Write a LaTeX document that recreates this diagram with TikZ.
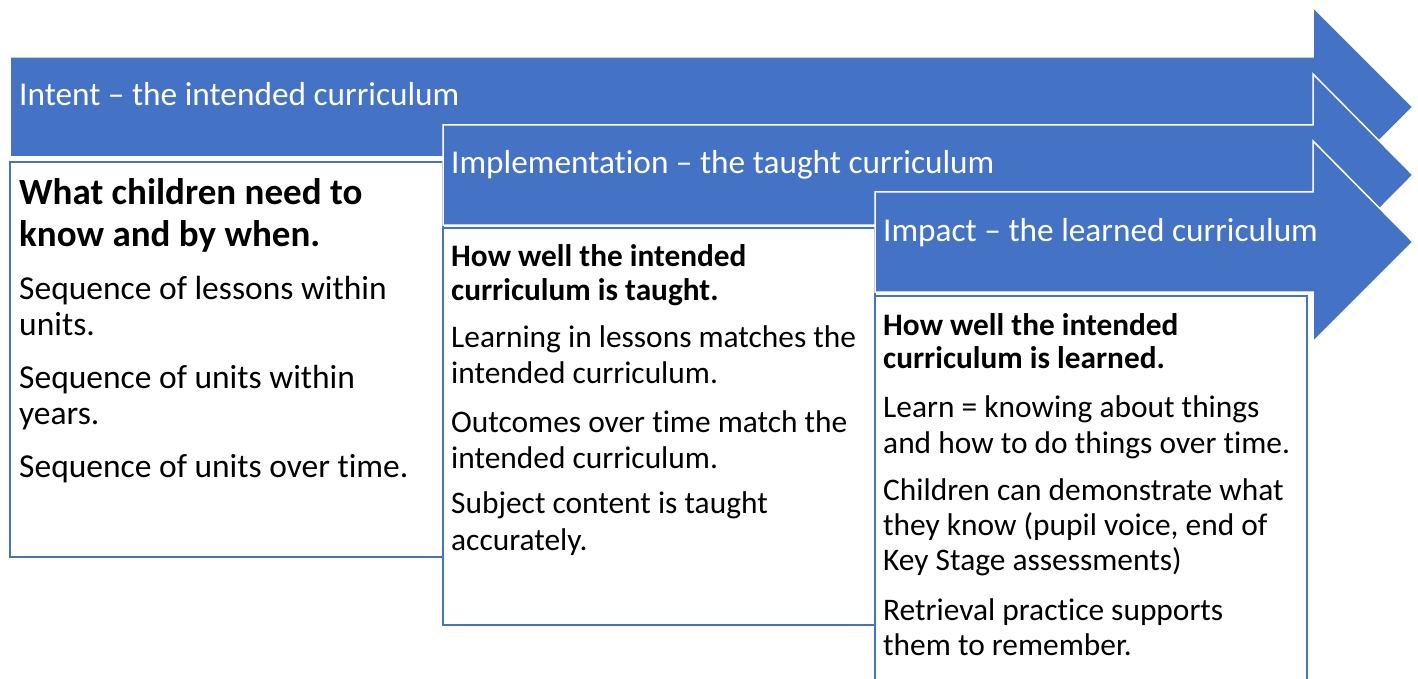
\documentclass[tikz,border=0pt]{standalone}
\usepackage{fontspec}
\setmainfont[Ligatures={NoCommon}]{Carlito}
\definecolor{offblue}{HTML}{4472C4}
\tikzset{
  arrowshape/.style={fill=offblue, draw=white, line width=1.5pt, line join=miter},
  panel/.style={fill=white, draw=offblue, line width=1.5pt},
  headtext/.style={anchor=mid west, inner sep=0pt, text=white, font=\fontsize{33.3}{36}\selectfont},
  bigbold/.style={anchor=mid west, inner sep=0pt, font=\fontsize{37}{40}\selectfont\bfseries},
  bigbody/.style={anchor=mid west, inner sep=0pt, font=\fontsize{33.5}{37}\selectfont},
  smallbold/.style={anchor=mid west, inner sep=0pt, font=\fontsize{31.3}{35}\selectfont\bfseries},
  smallbody/.style={anchor=mid west, inner sep=0pt, font=\fontsize{31.4}{35}\selectfont},
}
\begin{document}
\begin{tikzpicture}[x=1pt,y=-1pt]
\useasboundingbox (0,0) rectangle (1418,679);
\clip (0,0) rectangle (1418,679);
% Arrow 1: Intent
\draw[arrowshape] (10,57) -- (1313,57) -- (1313,7) -- (1413,107) -- (1313,207) -- (1313,157) -- (10,157) -- cycle;
\node[headtext] (h1) at (19,103) {Intent – the intended curriculum};
% Box 1
\draw[panel] (10,162) rectangle (443,557);
\node[bigbold] (b1a) at (19,202) {What children need to};
\node[bigbold] (b1b) at (19,244) {know and by when.};
\node[bigbody] (b1c) at (19,297) {Sequence of lessons within};
\node[bigbody] (b1d) at (19,333) {units.};
\node[bigbody] (b1e) at (19,386) {Sequence of units within};
\node[bigbody] (b1f) at (19,422) {years.};
\node[bigbody] (b1g) at (19,475) {Sequence of units over time.};
% Arrow 2: Implementation
\draw[arrowshape] (443,125) -- (1313,125) -- (1313,74) -- (1413,175) -- (1313,276) -- (1313,225) -- (443,225) -- cycle;
\node[headtext] (h2) at (451,171) {Implementation – the taught curriculum};
% Box 2
\draw[panel] (443,228) rectangle (875,625);
\node[smallbold] (b2a) at (451,264) {How well the intended};
\node[smallbold] (b2b) at (451,298) {curriculum is taught.};
\node[smallbody] (b2c) at (451,345) {Learning in lessons matches the};
\node[smallbody] (b2d) at (451,381) {intended curriculum.};
\node[smallbody] (b2e) at (451,430) {Outcomes over time match the};
\node[smallbody] (b2f) at (451,466) {intended curriculum.};
\node[smallbody] (b2g) at (451,511) {Subject content is taught};
\node[smallbody] (b2h) at (451,548) {accurately.};
% Arrow 3: Impact
\draw[arrowshape] (875,192) -- (1313,192) -- (1313,141) -- (1413,242) -- (1313,342) -- (1313,292) -- (875,292) -- cycle;
\node[headtext] (h3) at (883,239) {Impact – the learned curriculum};
% Box 3
\draw[panel] (875,296) rectangle (1307,700);
\node[smallbold] (b3a) at (883,333) {How well the intended};
\node[smallbold] (b3b) at (883,366) {curriculum is learned.};
\node[smallbody] (b3c) at (883,415) {Learn = knowing about things};
\node[smallbody] (b3d) at (883,451) {and how to do things over time.};
\node[smallbody] (b3e) at (883,498) {Children can demonstrate what};
\node[smallbody] (b3f) at (883,533) {they know (pupil voice, end of};
\node[smallbody] (b3g) at (883,568) {Key Stage assessments)};
\node[smallbody] (b3h) at (883,618) {Retrieval practice supports};
\node[smallbody] (b3i) at (883,653) {them to remember.};
\end{tikzpicture}
\end{document}
